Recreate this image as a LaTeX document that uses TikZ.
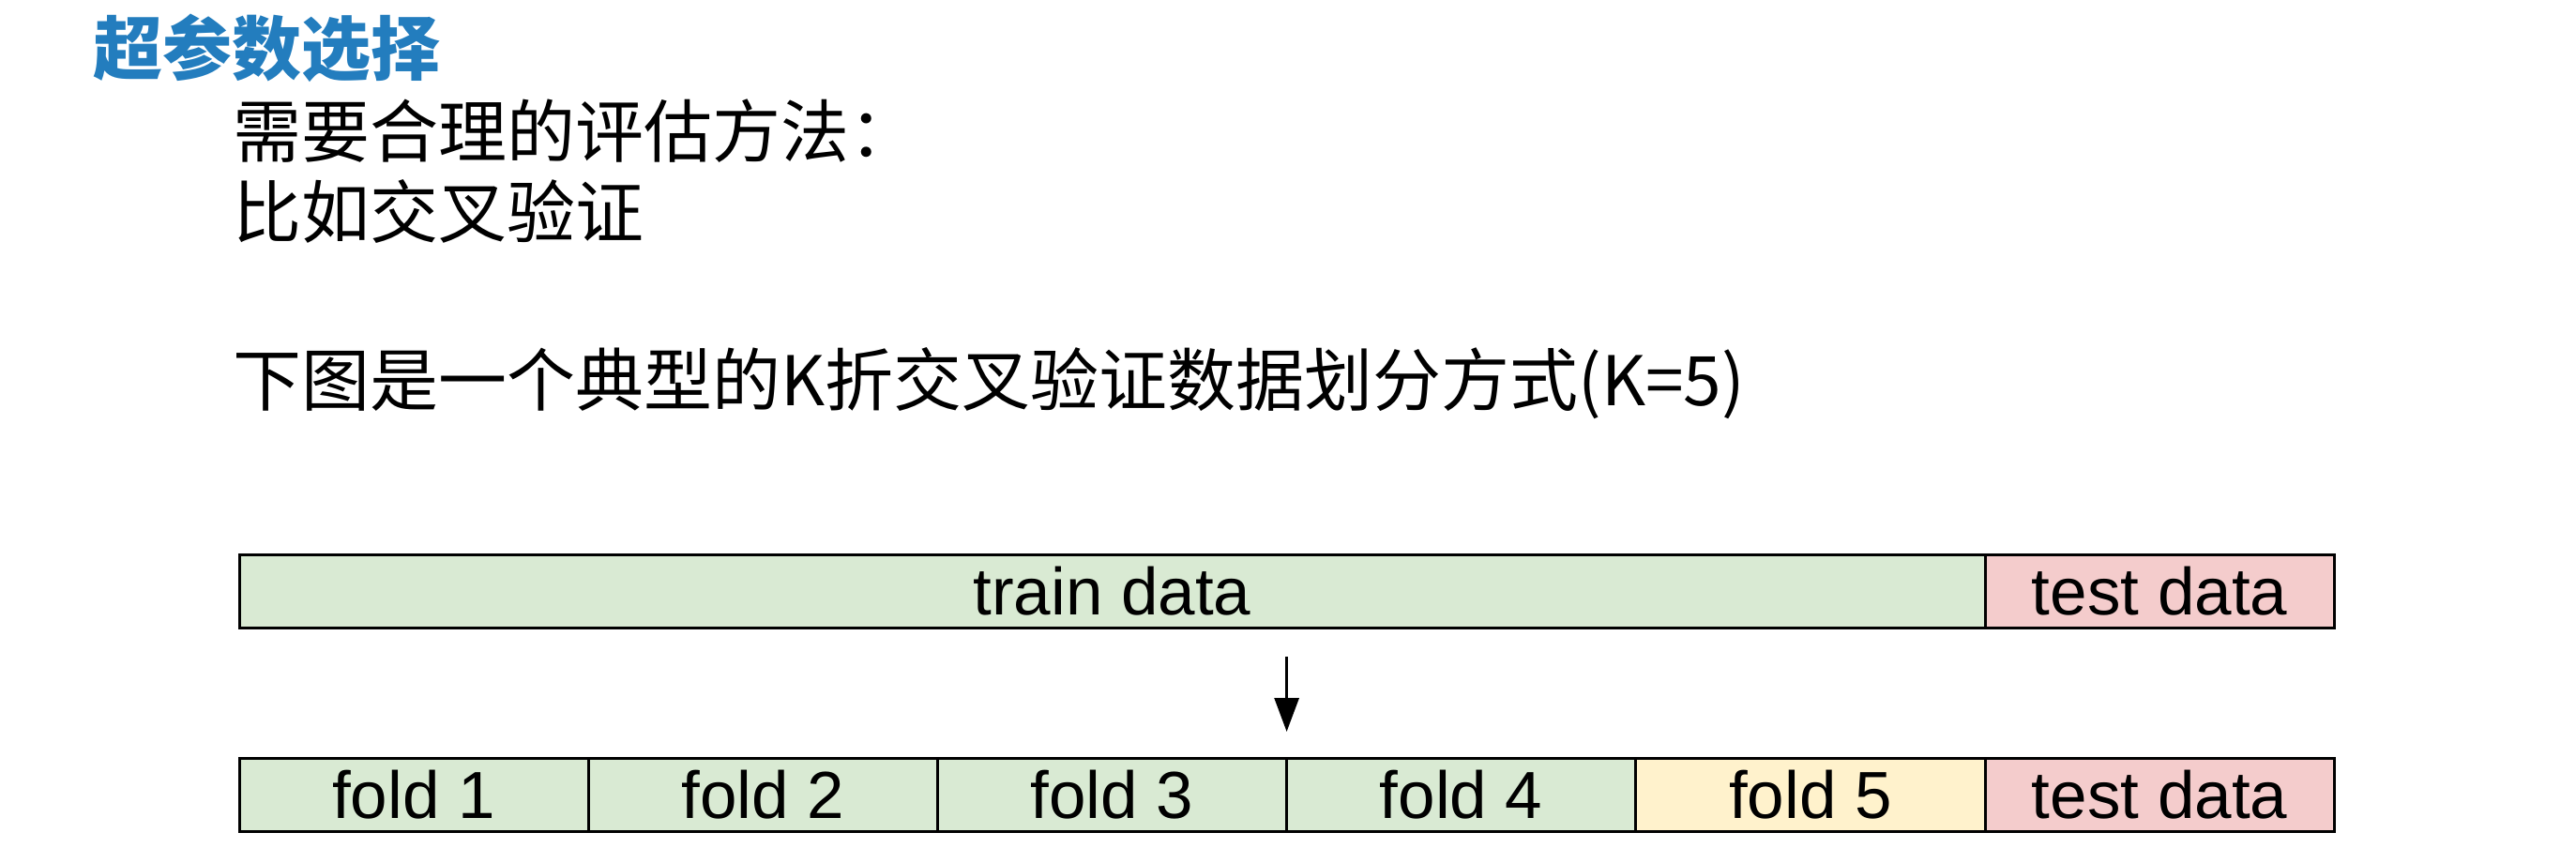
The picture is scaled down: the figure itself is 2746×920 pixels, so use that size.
\documentclass[tikz,border=0pt]{standalone}
\usepackage{fontspec}
\setmainfont{Liberation Sans}
\newfontfamily\cjk{Noto Sans CJK SC}
\usetikzlibrary{arrows.meta}
\definecolor{titleblue}{RGB}{35,125,190}
\definecolor{traingreen}{RGB}{217,234,211}
\definecolor{testred}{RGB}{244,204,204}
\definecolor{foldyellow}{RGB}{255,242,204}
\tikzset{
  cell/.style={draw=black, line width=3pt, inner sep=0pt, minimum height=78pt,
    font=\fontsize{71}{80}\selectfont},
  foldcell/.style={cell, minimum width=372.2pt},
  bodytext/.style={anchor=base west, inner sep=0pt, font=\cjk\fontsize{73}{80}\selectfont},
  titletext/.style={anchor=base west, inner sep=0pt, text=titleblue, font=\cjk\bfseries\fontsize{74}{80}\selectfont},
  downarrow/.style={line width=3pt, -{Triangle[width=26pt,length=36pt]}}
}
\begin{document}
\begin{tikzpicture}[x=1pt,y=-1pt]
\useasboundingbox (0,0) rectangle (2746,920);
% texts
\node[titletext] (title) at (99,80) {超参数选择};
\node[bodytext] (l1) at (248,168) {需要合理的评估方法：};
\node[bodytext] (l2) at (248,253) {比如交叉验证};
\node[bodytext] (l3) at (248,432) {下图是一个典型的K折交叉验证数据划分方式(K=5)};
% top bar
\node[cell, fill=traingreen, minimum width=1861pt] (train) at (1185.5,630) {train data};
\node[cell, fill=testred, minimum width=372.2pt] (test1) at (2302.1,630) {test data};
% bottom bar
\node[foldcell, fill=traingreen] (f1) at (441.1,847.5) {fold 1};
\node[foldcell, fill=traingreen] (f2) at (813.3,847.5) {fold 2};
\node[foldcell, fill=traingreen] (f3) at (1185.5,847.5) {fold 3};
\node[foldcell, fill=traingreen] (f4) at (1557.7,847.5) {fold 4};
\node[foldcell, fill=foldyellow] (f5) at (1929.9,847.5) {fold 5};
\node[foldcell, fill=testred] (test2) at (2302.1,847.5) {test data};
% arrow
\coordinate (astart) at (1371.6,700);
\coordinate (aend) at (1371.6,780);
\draw[downarrow] (astart) -- (aend);
\end{tikzpicture}
\end{document}
